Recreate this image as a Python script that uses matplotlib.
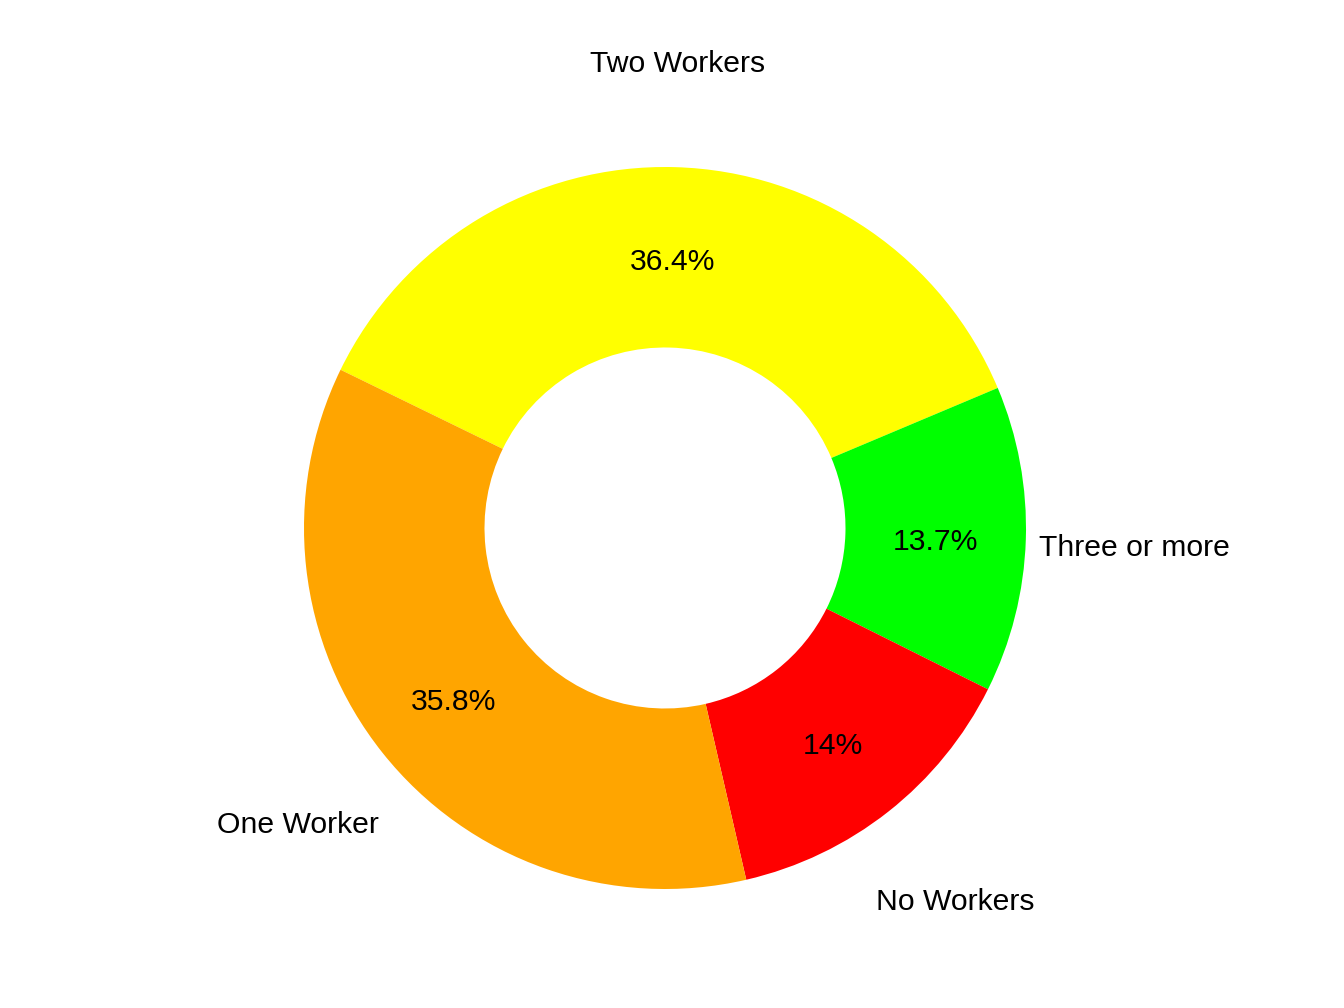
import numpy as np
import matplotlib
matplotlib.use("Agg")
import matplotlib.pyplot as plt
from matplotlib.transforms import offset_copy

categories = ["Two Workers", "Three or more", "No Workers", "One Worker"]
values = [36.4, 13.7, 14.0, 35.8]
colors = ["#FFFF00", "#00FF00", "#FF0000", "#FFA500"]
pct_labels = [f"{v:g}%" for v in values]

plt.rcParams['font.family'] = ['Liberation Sans', 'DejaVu Sans']

fig = plt.figure(figsize=(13.44, 10.08), dpi=100)
ax = fig.add_axes([0, 0, 1, 1])

wedges, texts = ax.pie(values, colors=colors, startangle=154, counterclock=False,
                       labels=None, wedgeprops=dict(width=0.5, linewidth=0))

shift = offset_copy(ax.transData, fig=fig, x=0, y=-5, units="dots")
fs = 21.7
for w, lab, pl in zip(wedges, categories, pct_labels):
    mid = np.deg2rad((w.theta1 + w.theta2) / 2)
    ax.text(1.30 * np.cos(mid), 1.30 * np.sin(mid), lab, ha="center", va="center",
            fontsize=fs, color="black", transform=shift)
    ax.text(0.75 * np.cos(mid), 0.75 * np.sin(mid), pl, ha="center", va="center",
            fontsize=fs, color="black", transform=shift)

scale = 361.0
cx, cy = 665.0, 1008 - 528.0
ax.set_xlim(-cx / scale, (1344 - cx) / scale)
ax.set_ylim(-cy / scale, (1008 - cy) / scale)
ax.set_aspect("equal")
ax.axis("off")

fig.savefig("out.png", dpi=100)
